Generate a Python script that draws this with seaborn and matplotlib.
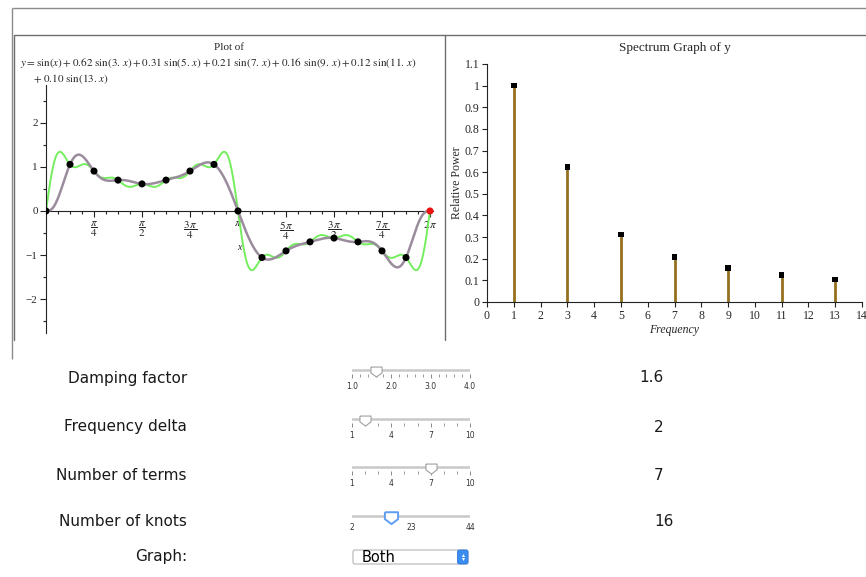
import numpy as np
import matplotlib
matplotlib.use("Agg")
import matplotlib.pyplot as plt
import seaborn as sns
from math import perm
from matplotlib.patches import FancyBboxPatch
from matplotlib.ticker import MultipleLocator, FixedLocator

# ---- series that make up y(x) and its spectrum ----
frequencies = [1, 3, 5, 7, 9, 11, 13]
amplitudes = [1.0, 0.625, 0.3125, 0.2083, 0.15625, 0.125, 0.1042]
n_knots = 16
spline_degree = 5

# ---- control panel ----
control_labels = ["Damping factor", "Frequency delta", "Number of terms", "Number of knots"]
control_values = [1.6, 2, 7, 16]
control_ranges = [(1.0, 4.0), (1, 10), (1, 10), (2, 44)]
control_tick_values = [[1, 2, 3, 4], [1, 4, 7, 10], [1, 4, 7, 10], [2, 23, 44]]
control_tick_labels = [["1.0", "2.0", "3.0", "4.0"], ["1", "4", "7", "10"],
                       ["1", "4", "7", "10"], ["2", "23", "44"]]
control_minor_step = [0.2, 1, 1, None]
graph_label = "Graph:"
graph_choice = "Both"

W, H = 866, 577
sns.set_theme(style="white")
plt.rcParams["font.family"] = ["Liberation Serif", "DejaVu Serif"]
plt.rcParams["mathtext.fontset"] = "stix"
plt.rcParams["axes.unicode_minus"] = True

fig = plt.figure(figsize=(W / 100, H / 100), dpi=100)
fig.patch.set_facecolor("white")


def rect(x0, y0, x1, y1):
    return [x0 / W, 1 - y1 / H, (x1 - x0) / W, (y1 - y0) / H]


def y_of(x):
    return sum(a * np.sin(f * x) for f, a in zip(frequencies, amplitudes))


def clamped_spline(xk, yk, xs, k):
    """Interpolating spline of odd degree k whose derivatives 1..(k-1)/2 vanish at both ends."""
    n = len(xk)
    scale = (n - 1) / (xk[-1] - xk[0])
    u = (xk - xk[0]) * scale
    inner = u[1:-1]

    def basis(x, der=0):
        x = np.atleast_1d(np.asarray(x, float))
        cols = [perm(j, der) * x ** (j - der) if j >= der else np.zeros_like(x)
                for j in range(k + 1)]
        cols += [perm(k, der) * np.where(x > t, x - t, 0.0) ** (k - der) for t in inner]
        return np.column_stack(cols)

    rows = [basis(u)]
    rhs = [np.asarray(yk, float)]
    for d in range(1, (k - 1) // 2 + 1):
        rows += [basis(u[0], d), basis(u[-1], d)]
        rhs += [np.zeros(1), np.zeros(1)]
    coef = np.linalg.solve(np.vstack(rows), np.concatenate(rhs))
    return basis((xs - xk[0]) * scale) @ coef


# ---- frame of the worksheet ----
ui = fig.add_axes([0, 0, 1, 1], zorder=0)
ui.set_xlim(0, W)
ui.set_ylim(H, 0)
ui.axis("off")
frame = dict(color="#8a8a8a", lw=1.0, solid_capstyle="butt")
ui.plot([12, 866], [8, 8], **frame)
ui.plot([12, 12], [8, 359], **frame)
ui.plot([14, 866], [35, 35], color="#6e6e6e", lw=1.0)
ui.plot([14, 14], [35, 340], color="#6e6e6e", lw=1.0)
ui.plot([445, 445], [35, 340], color="#6e6e6e", lw=1.0)

# ---- left: y(x) and the spline through the knots ----
ax = fig.add_axes(rect(46, 85, 433, 333), zorder=2)
ax.patch.set_alpha(0)
x_end = 2 * np.pi
xs = np.linspace(0, x_end, 1500)
xk = np.linspace(0, x_end, n_knots + 1)
yk = y_of(xk)

sns.lineplot(x=xs, y=y_of(xs), ax=ax, color="#74ee5e", lw=1.4, zorder=2)
sns.lineplot(x=xs, y=clamped_spline(xk, yk, xs, spline_degree), ax=ax, color="#9a8c9d",
             lw=1.8, zorder=3)
sns.scatterplot(x=xk[:-1], y=yk[:-1], ax=ax, color="black", s=26, edgecolor="none", zorder=4)
sns.scatterplot(x=xk[-1:], y=yk[-1:], ax=ax, color="#ee1111", s=26, edgecolor="none", zorder=4,
                clip_on=False)

ax.set_xlim(0, x_end * 387 / 384)
ax.set_ylim(-2.77, 2.86)
for s in ("top", "right"):
    ax.spines[s].set_visible(False)
ax.spines["bottom"].set_position(("data", 0))
for s in ("left", "bottom"):
    ax.spines[s].set_color("#222222")
    ax.spines[s].set_linewidth(0.8)
pi_labels = [r"$\dfrac{\pi}{4}$", r"$\dfrac{\pi}{2}$", r"$\dfrac{3\,\pi}{4}$", r"$\pi$",
             r"$\dfrac{5\,\pi}{4}$", r"$\dfrac{3\,\pi}{2}$", r"$\dfrac{7\,\pi}{4}$", r"$2\,\pi$"]
ax.xaxis.set_major_locator(FixedLocator([k * np.pi / 4 for k in range(1, 9)]))
ax.set_xticklabels(pi_labels)
ax.xaxis.set_minor_locator(MultipleLocator(np.pi / 16))
ax.yaxis.set_major_locator(FixedLocator([-2, -1, 0, 1, 2]))
ax.yaxis.set_minor_locator(MultipleLocator(0.5))
ax.tick_params(axis="both", which="both", direction="out", color="#222222", width=0.8,
               labelsize=8, pad=2, bottom=True, left=True)
ax.tick_params(axis="both", which="major", length=4)
ax.tick_params(axis="both", which="minor", length=2.5)
ax.set_xlabel("x", fontsize=7, fontstyle="italic", labelpad=1)
ax.set_ylabel("")

terms = [r"\sin(x)"] + [rf"{a:.2f}\ \sin({f}.\,x)" for f, a in zip(frequencies[1:], amplitudes[1:])]
fig.text(229 / W, 1 - 47 / H, "Plot of", ha="center", va="center", fontsize=8)
fig.text(20 / W, 1 - 63 / H, "$y = " + " + ".join(terms[:-1]) + "$", ha="left", va="center",
         fontsize=8)
fig.text(33 / W, 1 - 79 / H, "$+\\ " + terms[-1] + "$", ha="left", va="center", fontsize=8)

# ---- right: spectrum ----
ax2 = fig.add_axes(rect(487, 64, 862, 302), zorder=2)
ax2.patch.set_alpha(0)
ax2.vlines(frequencies, 0, amplitudes, color="#94701f", lw=2.0, zorder=2)
sns.scatterplot(x=frequencies, y=amplitudes, ax=ax2, marker="s", s=16, color="black",
                edgecolor="none", zorder=3)
ax2.set_xlim(0, 14)
ax2.set_ylim(0, 1.1)
for s in ("top", "right"):
    ax2.spines[s].set_visible(False)
for s in ("left", "bottom"):
    ax2.spines[s].set_color("#222222")
    ax2.spines[s].set_linewidth(0.8)
ax2.xaxis.set_major_locator(MultipleLocator(1))
ax2.yaxis.set_major_locator(FixedLocator([i / 10 for i in range(12)]))
ax2.set_yticklabels(["0"] + [f"{i / 10:g}" for i in range(1, 12)])
ax2.tick_params(axis="both", direction="out", length=3.5, width=0.8, color="#222222",
                labelsize=8.5, pad=2, bottom=True, left=True)
ax2.set_xlabel("Frequency", fontsize=8.5, fontstyle="italic", labelpad=2)
ax2.set_ylabel("Relative Power", fontsize=8.5, labelpad=1)
ax2.set_title("Spectrum Graph of y", fontsize=9.5, pad=9)

# ---- control panel ----
ui_font = ["DejaVu Sans"]
label_y = [378, 427, 475, 521]
track_y = [370, 419, 467, 516]
value_x = [639, 654, 654, 654]
thumb_path = [(-1, 0.8), (1, 0.8), (1, -0.25), (0, -1), (-1, -0.25), (-1, 0.8)]
for i, lab in enumerate(control_labels):
    ui.text(187, label_y[i], lab, ha="right", va="center", fontsize=11, family=ui_font,
            color="#1a1a1a")
    ui.text(value_x[i], label_y[i], f"{control_values[i]:g}", ha="left", va="center",
            fontsize=11, family=ui_font, color="#1a1a1a")

    ty = track_y[i]
    sa = fig.add_axes(rect(352, ty - 8, 470, ty + 4), zorder=3)
    sa.patch.set_alpha(0)
    lo, hi = control_ranges[i]
    sa.set_xlim(lo, hi)
    sa.set_ylim(4, -8)
    for s in sa.spines.values():
        s.set_visible(False)
    sa.axhline(0, color="#c9c9c9", lw=1.8, zorder=1)
    sa.set_xticks(control_tick_values[i])
    sa.set_xticklabels(control_tick_labels[i])
    if control_minor_step[i]:
        sa.xaxis.set_minor_locator(MultipleLocator(control_minor_step[i]))
        tick_len = 3.2
    else:
        tick_len = 0
    sa.set_yticks([])
    sa.tick_params(axis="x", which="major", direction="out", length=tick_len, width=0.7,
                   color="#8a8a8a", labelsize=5.5, pad=2.5, labelcolor="#333333",
                   bottom=True)
    sa.tick_params(axis="x", which="minor", direction="out", length=tick_len * 0.65,
                   width=0.7, color="#9a9a9a", bottom=True)
    for t in sa.get_xticklabels():
        t.set_family(ui_font)
    last = i == len(control_labels) - 1
    sa.plot([control_values[i]], [1], marker=thumb_path, ms=9.5 if last else 8,
            mfc="white", mec="#5d9df2" if last else "#a0a0a0", mew=1.4 if last else 0.8,
            zorder=5, clip_on=False)

ui.text(187, 557, graph_label, ha="right", va="center", fontsize=11, family=ui_font,
        color="#1a1a1a")
ui.add_patch(FancyBboxPatch((353, 550), 115, 14, boxstyle="round,pad=0,rounding_size=2",
                            fc="white", ec="#b5b5b5", lw=0.8))
ui.add_patch(FancyBboxPatch((457.5, 550), 10.5, 14, boxstyle="round,pad=0,rounding_size=2",
                            fc="#3b8df2", ec="#2f78dc", lw=0.6))
ui.plot([462.8], [554.8], marker="^", ms=2.2, color="white", mew=0)
ui.plot([462.8], [559.4], marker="v", ms=2.2, color="white", mew=0)
ui.text(362, 557.5, graph_choice, ha="left", va="center", fontsize=10.5, family=ui_font,
        color="black")

fig.savefig("out.png", dpi=100, facecolor="white")
